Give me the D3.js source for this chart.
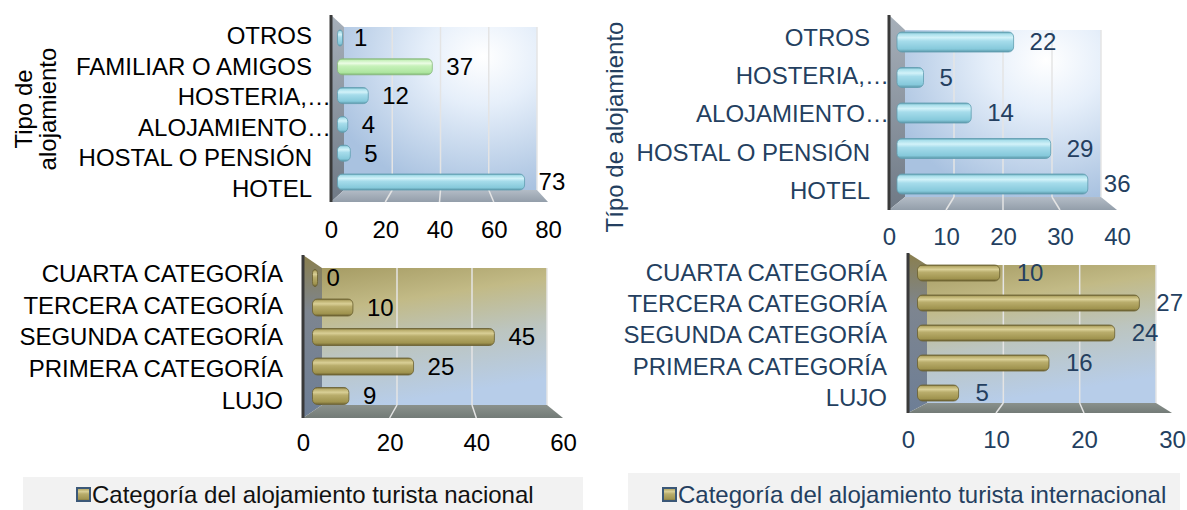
<!DOCTYPE html>
<html>
<head>
<meta charset="utf-8">
<script src="https://cdn.jsdelivr.net/npm/d3@7"></script>
<style>
    body { margin: 0; background: #fff; }
    text { font-family: "Liberation Sans", Arial, sans-serif; }
</style>
</head>
<body>
<script>
// tipo de alojamiento (nacional / internacional)
const tipoNacCats = ['OTROS', 'FAMILIAR O AMIGOS', 'HOSTERIA,…', 'ALOJAMIENTO…', 'HOSTAL O PENSIÓN', 'HOTEL'];
const tipoNacValues = [1, 37, 12, 4, 5, 73];
const tipoNacTicks = [0, 20, 40, 60, 80];
const tipoIntCats = ['OTROS', 'HOSTERIA,…', 'ALOJAMIENTO…', 'HOSTAL O PENSIÓN', 'HOTEL'];
const tipoIntValues = [22, 5, 14, 29, 36];
const tipoIntTicks = [0, 10, 20, 30, 40];

// categoria del alojamiento
const categoriaCats = ['CUARTA CATEGORÍA', 'TERCERA CATEGORÍA', 'SEGUNDA CATEGORÍA', 'PRIMERA CATEGORÍA', 'LUJO'];
const catNacValues = [0, 10, 45, 25, 9];
const catNacTicks = [0, 20, 40, 60];
const catIntValues = [10, 27, 24, 16, 5];
const catIntTicks = [0, 10, 20, 30];

const highlighted = 'FAMILIAR O AMIGOS';
const legendNac = 'Categoría del alojamiento turista nacional';
const legendInt = 'Categoría del alojamiento turista internacional';

const svgWidth = 1187;
const svgHeight = 510;
const navy = '#243f60';

window.onload = main;

function main() {
    const svg = d3.select('body').append('svg')
        .attr('width', svgWidth)
        .attr('height', svgHeight);

    make_gradients(svg.append('defs'));

    render_panel(svg, {
        cats: tipoNacCats, values: tipoNacValues, ticks: tipoNacTicks, theme: 'blue', color: '#000',
        wallX: 331, topY: 15, backX0: 344, backTop: 27, backX1: 537, backFloor: 190, frontFloor: 202, frontX1: 548,
        barY: [38, 182], labelY: [35, 188], labelX: 312, tickY: 230, barH: 16, gap: 14
    });
    render_panel(svg, {
        cats: tipoIntCats, values: tipoIntValues, ticks: tipoIntTicks, theme: 'blue', color: navy,
        wallX: 889, topY: 15, backX0: 905, backTop: 30, backX1: 1101, backFloor: 197, frontFloor: 210, frontX1: 1117,
        barY: [42, 184], labelY: [37, 190], labelX: 870, tickY: 237, barH: 20, gap: 16
    });
    render_panel(svg, {
        cats: categoriaCats, values: catNacValues, ticks: catNacTicks, theme: 'olive', color: '#000',
        wallX: 303, topY: 255, backX0: 322, backTop: 268, backX1: 547, backFloor: 405, frontFloor: 418, frontX1: 563,
        barY: [278, 396], labelY: [273, 400], labelX: 283, tickY: 443, barH: 17, gap: 14
    });
    render_panel(svg, {
        cats: categoriaCats, values: catIntValues, ticks: catIntTicks, theme: 'olive', color: navy,
        wallX: 908, topY: 253, backX0: 927, backTop: 265, backX1: 1156, backFloor: 403, frontFloor: 413, frontX1: 1172,
        barY: [273, 393], labelY: [272, 397], labelX: 887, tickY: 440, barH: 16, gap: 17
    });

    // titulos de eje
    const rotated = (x, y, txt, color) => svg.append('text')
        .attr('transform', `translate(${x},${y}) rotate(-90)`)
        .attr('text-anchor', 'middle')
        .attr('dy', '0.35em')
        .attr('font-size', 24)
        .attr('fill', color)
        .text(txt);
    rotated(24, 109, 'Tipo de', '#000');
    rotated(48, 109, 'alojamiento', '#000');
    rotated(615, 127, 'Típo de alojamiento', navy);

    // leyendas
    render_legend(svg, 23, 477, 560, 92, legendNac, '#111');
    render_legend(svg, 628, 473, 552, 678, legendInt, navy);
}

function stops(grad, list) {
    list.forEach(([o, c]) => grad.append('stop').attr('offset', o).attr('stop-color', c));
}

function make_gradients(defs) {
    const lin = (id, x2, y2) => defs.append('linearGradient').attr('id', id)
        .attr('x1', 0).attr('y1', 0).attr('x2', x2).attr('y2', y2);

    stops(defs.append('radialGradient').attr('id', 'blue-back')
        .attr('cx', 0.72).attr('cy', 0.18).attr('r', 0.85),
        [['0%', '#ffffff'], ['35%', '#e6effa'], ['100%', '#a9c2e0']]);
    stops(lin('blue-floor', 0, 1), [['0%', '#b3bcc6'], ['100%', '#939eaa']]);
    stops(lin('blue-wall', 0, 1), [['0%', '#a7b0ba'], ['100%', '#6f7985']]);

    stops(lin('olive-back', 0.25, 1),
        [['0%', '#a69c64'], ['30%', '#c2ba86'], ['62%', '#bcc5c0'], ['100%', '#b7cde9']]);
    stops(lin('olive-floor', 0, 1), [['0%', '#8a918c'], ['100%', '#737b77']]);
    stops(lin('olive-wall', 0, 1), [['0%', '#8a7f4e'], ['35%', '#7d8590'], ['100%', '#6d7e96']]);

    stops(lin('bar-blue', 0, 1), [['0%', '#5e9fb1'], ['10%', '#a9dfeb'], ['28%', '#d2f2f9'],
        ['45%', '#a6dceb'], ['85%', '#86c9db'], ['100%', '#5a97a8']]);
    stops(lin('bar-green', 0, 1), [['0%', '#86c07a'], ['10%', '#c8f1bc'], ['28%', '#ebfce4'],
        ['45%', '#c6f1b9'], ['85%', '#aee6a0'], ['100%', '#7fb873']]);
    stops(lin('bar-olive', 0, 1), [['0%', '#6f6533'], ['10%', '#b9ad6c'], ['28%', '#d9cf96'],
        ['45%', '#b9ad6c'], ['85%', '#a0944f'], ['100%', '#6a5f30']]);
}

function render_panel(svg, p) {
    const g = svg.append('g');
    const max = d3.max(p.ticks);

    const xFront = d3.scaleLinear().domain([0, max]).range([p.wallX, p.frontX1]);
    const xBack = d3.scaleLinear().domain([0, max]).range([p.backX0, p.backX1]);
    const xBar = d3.scaleLinear().domain([0, max])
        .range([(p.wallX + p.backX0) / 2, (p.frontX1 + p.backX1) / 2]);
    const yBar = d3.scalePoint().domain(p.cats).range(p.barY);
    const yLabel = d3.scalePoint().domain(p.cats).range(p.labelY);

    // pared del fondo
    g.append('rect')
        .attr('x', p.backX0).attr('y', p.backTop)
        .attr('width', p.backX1 - p.backX0).attr('height', p.backFloor - p.backTop)
        .attr('fill', `url(#${p.theme}-back)`);

    // pared lateral
    g.append('path')
        .attr('d', d3.line()([[p.wallX, p.topY], [p.backX0, p.backTop], [p.backX0, p.backFloor], [p.wallX, p.frontFloor]]) + 'Z')
        .attr('fill', `url(#${p.theme}-wall)`);

    // piso
    g.append('path')
        .attr('d', d3.line()([[p.wallX, p.frontFloor], [p.backX0, p.backFloor], [p.backX1, p.backFloor], [p.frontX1, p.frontFloor]]) + 'Z')
        .attr('fill', `url(#${p.theme}-floor)`);

    g.selectAll('line.grid')
        .data(p.ticks.slice(1))
        .join('line')
        .attr('class', 'grid')
        .attr('x1', d => xBack(d)).attr('x2', d => xBack(d))
        .attr('y1', p.backTop).attr('y2', p.backFloor)
        .attr('stroke', '#e4e4e4').attr('stroke-width', 1.5);

    g.selectAll('line.fgrid')
        .data(p.ticks.slice(1, -1))
        .join('line')
        .attr('class', 'fgrid')
        .attr('x1', d => xBack(d)).attr('y1', p.backFloor)
        .attr('x2', d => xFront(d)).attr('y2', p.frontFloor)
        .attr('stroke', '#e4e4e4').attr('stroke-width', 1.5);

    g.append('line')
        .attr('x1', p.wallX).attr('x2', p.wallX)
        .attr('y1', p.topY).attr('y2', p.frontFloor)
        .attr('stroke', '#3a3a3a').attr('stroke-width', 3);

    const data = p.cats.map((c, i) => ({cat: c, value: p.values[i]}));
    const barFill = d => p.theme === 'olive' ? 'url(#bar-olive)'
        : (d.cat === highlighted ? 'url(#bar-green)' : 'url(#bar-blue)');

    g.selectAll('rect.bar')
        .data(data)
        .join('rect')
        .attr('class', 'bar')
        .attr('x', xBar(0))
        .attr('y', d => yBar(d.cat) - p.barH / 2)
        .attr('width', d => Math.max(xBar(d.value) - xBar(0), 5))
        .attr('height', p.barH)
        .attr('rx', 5)
        .attr('fill', barFill)
        .attr('stroke', d => p.theme === 'olive' ? '#6a5f30' : (d.cat === highlighted ? '#86b77a' : '#5f9db0'))
        .attr('stroke-width', 0.8);

    g.selectAll('text.val')
        .data(data)
        .join('text')
        .attr('class', 'val')
        .attr('x', d => xBar(d.value) + p.gap)
        .attr('y', d => yBar(d.cat))
        .attr('dy', '0.35em')
        .attr('font-size', 24)
        .attr('fill', p.color)
        .text(d => d.value);

    // eje de valores
    g.append('g')
        .attr('transform', `translate(0,${p.tickY})`)
        .call(d3.axisBottom(xFront).tickValues(p.ticks).tickSize(0).tickPadding(0))
        .call(a => a.select('.domain').remove())
        .selectAll('text')
        .attr('dy', '0.35em')
        .attr('font-size', 24)
        .attr('font-family', '"Liberation Sans", Arial, sans-serif')
        .attr('fill', p.color);

    // eje de categorias
    g.append('g')
        .attr('transform', `translate(${p.labelX},0)`)
        .call(d3.axisLeft(yLabel).tickSize(0).tickPadding(0))
        .call(a => a.select('.domain').remove())
        .selectAll('text')
        .attr('x', d => d.includes('…') ? 19 : 0)
        .attr('dy', '0.35em')
        .attr('font-size', 24)
        .attr('font-family', '"Liberation Sans", Arial, sans-serif')
        .attr('fill', p.color);
}

function render_legend(svg, x, y, w, textX, label, color) {
    const g = svg.append('g');
    g.append('rect')
        .attr('x', x).attr('y', y)
        .attr('width', w).attr('height', svgHeight - y)
        .attr('fill', '#f2f2f2');
    g.append('rect')
        .attr('x', textX - 15).attr('y', 488)
        .attr('width', 13).attr('height', 13)
        .attr('fill', 'url(#bar-olive)')
        .attr('stroke', '#3b5878').attr('stroke-width', 2);
    g.append('text')
        .attr('x', textX).attr('y', 495)
        .attr('dy', '0.35em')
        .attr('font-size', 24)
        .attr('fill', color)
        .text(label);
}
</script>
</body>
</html>
